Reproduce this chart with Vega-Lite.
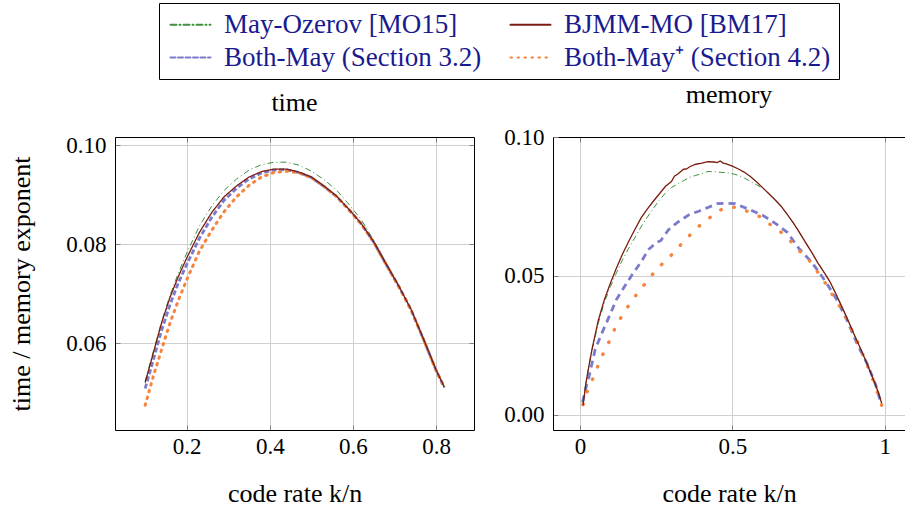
{
  "$schema": "https://vega.github.io/schema/vega-lite/v6.json",
  "padding": {"left": 8, "top": 2, "right": 0, "bottom": 0},
  "background": "white",
  "config": {
    "font": "Liberation Serif",
    "view": {"stroke": null},
    "style": {
      "guide-label": {"font": "Liberation Serif"},
      "guide-title": {"font": "Liberation Serif"},
      "group-title": {"font": "Liberation Serif"}
    },
    "axis": {
      "labelFont": "Liberation Serif", "labelFontSize": 23, "labelColor": "black",
      "titleFont": "Liberation Serif", "titleFontSize": 26, "titleFontWeight": "normal", "titleColor": "black",
      "gridColor": "#cfcfcf", "gridWidth": 1, "domainColor": "black", "domainWidth": 1,
      "tickColor": "#808080", "tickSize": -5, "tickWidth": 1
    },
    "legend": {"labelFont": "Liberation Serif", "labelFontSize": 27, "labelColor": "#1a1a8f"},
    "title": {"font": "Liberation Serif", "fontSize": 26, "fontWeight": "normal", "offset": 18, "color": "black"},
    "concat": {"spacing": 28}
  },
  "datasets": {
    "time": [
      {"s": "Both-May (Section 3.2)", "x": 0.10, "y": 0.0508}, {"s": "Both-May (Section 3.2)", "x": 0.12, "y": 0.0567}, {"s": "Both-May (Section 3.2)", "x": 0.14, "y": 0.0627}, {"s": "Both-May (Section 3.2)", "x": 0.16, "y": 0.0678}, {"s": "Both-May (Section 3.2)", "x": 0.18, "y": 0.0722}, {"s": "Both-May (Section 3.2)", "x": 0.20, "y": 0.0759}, {"s": "Both-May (Section 3.2)", "x": 0.23, "y": 0.0811}, {"s": "Both-May (Section 3.2)", "x": 0.26, "y": 0.0854}, {"s": "Both-May (Section 3.2)", "x": 0.29, "y": 0.0889}, {"s": "Both-May (Section 3.2)", "x": 0.32, "y": 0.0913}, {"s": "Both-May (Section 3.2)", "x": 0.35, "y": 0.0932}, {"s": "Both-May (Section 3.2)", "x": 0.38, "y": 0.0944}, {"s": "Both-May (Section 3.2)", "x": 0.41, "y": 0.0950}, {"s": "Both-May (Section 3.2)", "x": 0.44, "y": 0.0951}, {"s": "Both-May (Section 3.2)", "x": 0.47, "y": 0.0945}, {"s": "Both-May (Section 3.2)", "x": 0.50, "y": 0.0935}, {"s": "Both-May (Section 3.2)", "x": 0.53, "y": 0.0917}, {"s": "Both-May (Section 3.2)", "x": 0.56, "y": 0.0897}, {"s": "Both-May (Section 3.2)", "x": 0.59, "y": 0.0870}, {"s": "Both-May (Section 3.2)", "x": 0.62, "y": 0.0841}, {"s": "Both-May (Section 3.2)", "x": 0.65, "y": 0.0804}, {"s": "Both-May (Section 3.2)", "x": 0.68, "y": 0.0759}, {"s": "Both-May (Section 3.2)", "x": 0.71, "y": 0.0715}, {"s": "Both-May (Section 3.2)", "x": 0.74, "y": 0.0667}, {"s": "Both-May (Section 3.2)", "x": 0.77, "y": 0.0607}, {"s": "Both-May (Section 3.2)", "x": 0.80, "y": 0.0545}, {"s": "Both-May (Section 3.2)", "x": 0.82, "y": 0.0510},
      {"s": "Both-May⁺ (Section 4.2)", "x": 0.10, "y": 0.0474}, {"s": "Both-May⁺ (Section 4.2)", "x": 0.12, "y": 0.0534}, {"s": "Both-May⁺ (Section 4.2)", "x": 0.14, "y": 0.0588}, {"s": "Both-May⁺ (Section 4.2)", "x": 0.16, "y": 0.0641}, {"s": "Both-May⁺ (Section 4.2)", "x": 0.18, "y": 0.0687}, {"s": "Both-May⁺ (Section 4.2)", "x": 0.20, "y": 0.0728}, {"s": "Both-May⁺ (Section 4.2)", "x": 0.23, "y": 0.0785}, {"s": "Both-May⁺ (Section 4.2)", "x": 0.26, "y": 0.0828}, {"s": "Both-May⁺ (Section 4.2)", "x": 0.29, "y": 0.0866}, {"s": "Both-May⁺ (Section 4.2)", "x": 0.32, "y": 0.0896}, {"s": "Both-May⁺ (Section 4.2)", "x": 0.35, "y": 0.0919}, {"s": "Both-May⁺ (Section 4.2)", "x": 0.38, "y": 0.0936}, {"s": "Both-May⁺ (Section 4.2)", "x": 0.41, "y": 0.0945}, {"s": "Both-May⁺ (Section 4.2)", "x": 0.44, "y": 0.0948}, {"s": "Both-May⁺ (Section 4.2)", "x": 0.47, "y": 0.0944}, {"s": "Both-May⁺ (Section 4.2)", "x": 0.50, "y": 0.0935}, {"s": "Both-May⁺ (Section 4.2)", "x": 0.53, "y": 0.0917}, {"s": "Both-May⁺ (Section 4.2)", "x": 0.56, "y": 0.0897}, {"s": "Both-May⁺ (Section 4.2)", "x": 0.59, "y": 0.0870}, {"s": "Both-May⁺ (Section 4.2)", "x": 0.62, "y": 0.0841}, {"s": "Both-May⁺ (Section 4.2)", "x": 0.65, "y": 0.0804}, {"s": "Both-May⁺ (Section 4.2)", "x": 0.68, "y": 0.0759}, {"s": "Both-May⁺ (Section 4.2)", "x": 0.71, "y": 0.0715}, {"s": "Both-May⁺ (Section 4.2)", "x": 0.74, "y": 0.0667}, {"s": "Both-May⁺ (Section 4.2)", "x": 0.77, "y": 0.0607}, {"s": "Both-May⁺ (Section 4.2)", "x": 0.80, "y": 0.0545}, {"s": "Both-May⁺ (Section 4.2)", "x": 0.82, "y": 0.0510},
      {"s": "May-Ozerov [MO15]", "x": 0.10, "y": 0.0523}, {"s": "May-Ozerov [MO15]", "x": 0.12, "y": 0.0584}, {"s": "May-Ozerov [MO15]", "x": 0.14, "y": 0.0645}, {"s": "May-Ozerov [MO15]", "x": 0.16, "y": 0.0697}, {"s": "May-Ozerov [MO15]", "x": 0.18, "y": 0.0742}, {"s": "May-Ozerov [MO15]", "x": 0.20, "y": 0.0782}, {"s": "May-Ozerov [MO15]", "x": 0.23, "y": 0.0836}, {"s": "May-Ozerov [MO15]", "x": 0.26, "y": 0.0877}, {"s": "May-Ozerov [MO15]", "x": 0.29, "y": 0.0909}, {"s": "May-Ozerov [MO15]", "x": 0.32, "y": 0.0932}, {"s": "May-Ozerov [MO15]", "x": 0.35, "y": 0.0950}, {"s": "May-Ozerov [MO15]", "x": 0.38, "y": 0.0961}, {"s": "May-Ozerov [MO15]", "x": 0.41, "y": 0.0966}, {"s": "May-Ozerov [MO15]", "x": 0.44, "y": 0.0966}, {"s": "May-Ozerov [MO15]", "x": 0.47, "y": 0.0960}, {"s": "May-Ozerov [MO15]", "x": 0.50, "y": 0.0948}, {"s": "May-Ozerov [MO15]", "x": 0.53, "y": 0.0931}, {"s": "May-Ozerov [MO15]", "x": 0.56, "y": 0.0910}, {"s": "May-Ozerov [MO15]", "x": 0.59, "y": 0.0881}, {"s": "May-Ozerov [MO15]", "x": 0.62, "y": 0.0850}, {"s": "May-Ozerov [MO15]", "x": 0.65, "y": 0.0808}, {"s": "May-Ozerov [MO15]", "x": 0.68, "y": 0.0761}, {"s": "May-Ozerov [MO15]", "x": 0.71, "y": 0.0716}, {"s": "May-Ozerov [MO15]", "x": 0.74, "y": 0.0668}, {"s": "May-Ozerov [MO15]", "x": 0.77, "y": 0.0608}, {"s": "May-Ozerov [MO15]", "x": 0.80, "y": 0.0546}, {"s": "May-Ozerov [MO15]", "x": 0.82, "y": 0.0511},
      {"s": "BJMM-MO [BM17]", "x": 0.10, "y": 0.0520}, {"s": "BJMM-MO [BM17]", "x": 0.12, "y": 0.0581}, {"s": "BJMM-MO [BM17]", "x": 0.14, "y": 0.0642}, {"s": "BJMM-MO [BM17]", "x": 0.16, "y": 0.0693}, {"s": "BJMM-MO [BM17]", "x": 0.18, "y": 0.0735}, {"s": "BJMM-MO [BM17]", "x": 0.20, "y": 0.0772}, {"s": "BJMM-MO [BM17]", "x": 0.23, "y": 0.0823}, {"s": "BJMM-MO [BM17]", "x": 0.26, "y": 0.0864}, {"s": "BJMM-MO [BM17]", "x": 0.29, "y": 0.0896}, {"s": "BJMM-MO [BM17]", "x": 0.32, "y": 0.0918}, {"s": "BJMM-MO [BM17]", "x": 0.35, "y": 0.0936}, {"s": "BJMM-MO [BM17]", "x": 0.38, "y": 0.0947}, {"s": "BJMM-MO [BM17]", "x": 0.41, "y": 0.0952}, {"s": "BJMM-MO [BM17]", "x": 0.44, "y": 0.0952}, {"s": "BJMM-MO [BM17]", "x": 0.47, "y": 0.0946}, {"s": "BJMM-MO [BM17]", "x": 0.50, "y": 0.0936}, {"s": "BJMM-MO [BM17]", "x": 0.53, "y": 0.0918}, {"s": "BJMM-MO [BM17]", "x": 0.56, "y": 0.0898}, {"s": "BJMM-MO [BM17]", "x": 0.59, "y": 0.0871}, {"s": "BJMM-MO [BM17]", "x": 0.62, "y": 0.0842}, {"s": "BJMM-MO [BM17]", "x": 0.65, "y": 0.0805}, {"s": "BJMM-MO [BM17]", "x": 0.68, "y": 0.0760}, {"s": "BJMM-MO [BM17]", "x": 0.71, "y": 0.0716}, {"s": "BJMM-MO [BM17]", "x": 0.74, "y": 0.0668}, {"s": "BJMM-MO [BM17]", "x": 0.77, "y": 0.0608}, {"s": "BJMM-MO [BM17]", "x": 0.80, "y": 0.0546}, {"s": "BJMM-MO [BM17]", "x": 0.82, "y": 0.0511}
    ],
    "memory": [
      {"s": "May-Ozerov [MO15]", "x": 0.01, "y": 0.0050}, {"s": "May-Ozerov [MO15]", "x": 0.02, "y": 0.0120}, {"s": "May-Ozerov [MO15]", "x": 0.03, "y": 0.0180}, {"s": "May-Ozerov [MO15]", "x": 0.04, "y": 0.0237}, {"s": "May-Ozerov [MO15]", "x": 0.06, "y": 0.0330}, {"s": "May-Ozerov [MO15]", "x": 0.08, "y": 0.0405}, {"s": "May-Ozerov [MO15]", "x": 0.10, "y": 0.0462}, {"s": "May-Ozerov [MO15]", "x": 0.12, "y": 0.0512}, {"s": "May-Ozerov [MO15]", "x": 0.14, "y": 0.0560}, {"s": "May-Ozerov [MO15]", "x": 0.16, "y": 0.0600}, {"s": "May-Ozerov [MO15]", "x": 0.18, "y": 0.0638}, {"s": "May-Ozerov [MO15]", "x": 0.20, "y": 0.0676}, {"s": "May-Ozerov [MO15]", "x": 0.22, "y": 0.0710}, {"s": "May-Ozerov [MO15]", "x": 0.24, "y": 0.0742}, {"s": "May-Ozerov [MO15]", "x": 0.26, "y": 0.0772}, {"s": "May-Ozerov [MO15]", "x": 0.28, "y": 0.0798}, {"s": "May-Ozerov [MO15]", "x": 0.30, "y": 0.0818}, {"s": "May-Ozerov [MO15]", "x": 0.32, "y": 0.0831}, {"s": "May-Ozerov [MO15]", "x": 0.34, "y": 0.0843}, {"s": "May-Ozerov [MO15]", "x": 0.36, "y": 0.0855}, {"s": "May-Ozerov [MO15]", "x": 0.38, "y": 0.0862}, {"s": "May-Ozerov [MO15]", "x": 0.40, "y": 0.0868}, {"s": "May-Ozerov [MO15]", "x": 0.42, "y": 0.0876}, {"s": "May-Ozerov [MO15]", "x": 0.44, "y": 0.0875}, {"s": "May-Ozerov [MO15]", "x": 0.46, "y": 0.0873}, {"s": "May-Ozerov [MO15]", "x": 0.48, "y": 0.0872}, {"s": "May-Ozerov [MO15]", "x": 0.50, "y": 0.0868}, {"s": "May-Ozerov [MO15]", "x": 0.52, "y": 0.0862}, {"s": "May-Ozerov [MO15]", "x": 0.54, "y": 0.0852}, {"s": "May-Ozerov [MO15]", "x": 0.56, "y": 0.0840}, {"s": "May-Ozerov [MO15]", "x": 0.58, "y": 0.0828}, {"s": "May-Ozerov [MO15]", "x": 0.60, "y": 0.0815}, {"s": "May-Ozerov [MO15]", "x": 0.62, "y": 0.0796}, {"s": "May-Ozerov [MO15]", "x": 0.64, "y": 0.0774}, {"s": "May-Ozerov [MO15]", "x": 0.66, "y": 0.0751}, {"s": "May-Ozerov [MO15]", "x": 0.68, "y": 0.0722}, {"s": "May-Ozerov [MO15]", "x": 0.70, "y": 0.0691}, {"s": "May-Ozerov [MO15]", "x": 0.72, "y": 0.0657}, {"s": "May-Ozerov [MO15]", "x": 0.74, "y": 0.0621}, {"s": "May-Ozerov [MO15]", "x": 0.76, "y": 0.0586}, {"s": "May-Ozerov [MO15]", "x": 0.78, "y": 0.0548}, {"s": "May-Ozerov [MO15]", "x": 0.80, "y": 0.0515}, {"s": "May-Ozerov [MO15]", "x": 0.82, "y": 0.0480}, {"s": "May-Ozerov [MO15]", "x": 0.84, "y": 0.0435}, {"s": "May-Ozerov [MO15]", "x": 0.86, "y": 0.0388}, {"s": "May-Ozerov [MO15]", "x": 0.88, "y": 0.0340}, {"s": "May-Ozerov [MO15]", "x": 0.90, "y": 0.0289}, {"s": "May-Ozerov [MO15]", "x": 0.92, "y": 0.0240}, {"s": "May-Ozerov [MO15]", "x": 0.94, "y": 0.0190}, {"s": "May-Ozerov [MO15]", "x": 0.96, "y": 0.0136}, {"s": "May-Ozerov [MO15]", "x": 0.98, "y": 0.0078}, {"s": "May-Ozerov [MO15]", "x": 0.99, "y": 0.0042},
      {"s": "BJMM-MO [BM17]", "x": 0.01, "y": 0.0035}, {"s": "BJMM-MO [BM17]", "x": 0.02, "y": 0.0118}, {"s": "BJMM-MO [BM17]", "x": 0.03, "y": 0.0180}, {"s": "BJMM-MO [BM17]", "x": 0.04, "y": 0.0240}, {"s": "BJMM-MO [BM17]", "x": 0.06, "y": 0.0340}, {"s": "BJMM-MO [BM17]", "x": 0.08, "y": 0.0415}, {"s": "BJMM-MO [BM17]", "x": 0.10, "y": 0.0475}, {"s": "BJMM-MO [BM17]", "x": 0.12, "y": 0.0530}, {"s": "BJMM-MO [BM17]", "x": 0.14, "y": 0.0580}, {"s": "BJMM-MO [BM17]", "x": 0.16, "y": 0.0625}, {"s": "BJMM-MO [BM17]", "x": 0.18, "y": 0.0667}, {"s": "BJMM-MO [BM17]", "x": 0.20, "y": 0.0708}, {"s": "BJMM-MO [BM17]", "x": 0.22, "y": 0.0740}, {"s": "BJMM-MO [BM17]", "x": 0.24, "y": 0.0768}, {"s": "BJMM-MO [BM17]", "x": 0.26, "y": 0.0795}, {"s": "BJMM-MO [BM17]", "x": 0.28, "y": 0.0822}, {"s": "BJMM-MO [BM17]", "x": 0.30, "y": 0.0840}, {"s": "BJMM-MO [BM17]", "x": 0.31, "y": 0.0859}, {"s": "BJMM-MO [BM17]", "x": 0.32, "y": 0.0866}, {"s": "BJMM-MO [BM17]", "x": 0.34, "y": 0.0884}, {"s": "BJMM-MO [BM17]", "x": 0.35, "y": 0.0885}, {"s": "BJMM-MO [BM17]", "x": 0.36, "y": 0.0893}, {"s": "BJMM-MO [BM17]", "x": 0.38, "y": 0.0902}, {"s": "BJMM-MO [BM17]", "x": 0.40, "y": 0.0906}, {"s": "BJMM-MO [BM17]", "x": 0.42, "y": 0.0911}, {"s": "BJMM-MO [BM17]", "x": 0.44, "y": 0.0910}, {"s": "BJMM-MO [BM17]", "x": 0.45, "y": 0.0908}, {"s": "BJMM-MO [BM17]", "x": 0.46, "y": 0.0914}, {"s": "BJMM-MO [BM17]", "x": 0.47, "y": 0.0906}, {"s": "BJMM-MO [BM17]", "x": 0.48, "y": 0.0903}, {"s": "BJMM-MO [BM17]", "x": 0.50, "y": 0.0895}, {"s": "BJMM-MO [BM17]", "x": 0.52, "y": 0.0885}, {"s": "BJMM-MO [BM17]", "x": 0.54, "y": 0.0873}, {"s": "BJMM-MO [BM17]", "x": 0.56, "y": 0.0857}, {"s": "BJMM-MO [BM17]", "x": 0.58, "y": 0.0838}, {"s": "BJMM-MO [BM17]", "x": 0.60, "y": 0.0817}, {"s": "BJMM-MO [BM17]", "x": 0.62, "y": 0.0796}, {"s": "BJMM-MO [BM17]", "x": 0.64, "y": 0.0774}, {"s": "BJMM-MO [BM17]", "x": 0.66, "y": 0.0751}, {"s": "BJMM-MO [BM17]", "x": 0.68, "y": 0.0722}, {"s": "BJMM-MO [BM17]", "x": 0.70, "y": 0.0691}, {"s": "BJMM-MO [BM17]", "x": 0.72, "y": 0.0657}, {"s": "BJMM-MO [BM17]", "x": 0.74, "y": 0.0621}, {"s": "BJMM-MO [BM17]", "x": 0.76, "y": 0.0586}, {"s": "BJMM-MO [BM17]", "x": 0.78, "y": 0.0548}, {"s": "BJMM-MO [BM17]", "x": 0.80, "y": 0.0515}, {"s": "BJMM-MO [BM17]", "x": 0.82, "y": 0.0480}, {"s": "BJMM-MO [BM17]", "x": 0.84, "y": 0.0435}, {"s": "BJMM-MO [BM17]", "x": 0.86, "y": 0.0388}, {"s": "BJMM-MO [BM17]", "x": 0.88, "y": 0.0340}, {"s": "BJMM-MO [BM17]", "x": 0.90, "y": 0.0289}, {"s": "BJMM-MO [BM17]", "x": 0.92, "y": 0.0240}, {"s": "BJMM-MO [BM17]", "x": 0.94, "y": 0.0190}, {"s": "BJMM-MO [BM17]", "x": 0.96, "y": 0.0136}, {"s": "BJMM-MO [BM17]", "x": 0.98, "y": 0.0078}, {"s": "BJMM-MO [BM17]", "x": 0.99, "y": 0.0042},
      {"s": "Both-May (Section 3.2)", "x": 0.008, "y": 0.0045}, {"s": "Both-May (Section 3.2)", "x": 0.02, "y": 0.0100}, {"s": "Both-May (Section 3.2)", "x": 0.03, "y": 0.0140}, {"s": "Both-May (Section 3.2)", "x": 0.05, "y": 0.0237}, {"s": "Both-May (Section 3.2)", "x": 0.07, "y": 0.0290}, {"s": "Both-May (Section 3.2)", "x": 0.085, "y": 0.0327}, {"s": "Both-May (Section 3.2)", "x": 0.10, "y": 0.0365}, {"s": "Both-May (Section 3.2)", "x": 0.12, "y": 0.0416}, {"s": "Both-May (Section 3.2)", "x": 0.145, "y": 0.0460}, {"s": "Both-May (Section 3.2)", "x": 0.17, "y": 0.0503}, {"s": "Both-May (Section 3.2)", "x": 0.20, "y": 0.0550}, {"s": "Both-May (Section 3.2)", "x": 0.225, "y": 0.0595}, {"s": "Both-May (Section 3.2)", "x": 0.25, "y": 0.0620}, {"s": "Both-May (Section 3.2)", "x": 0.265, "y": 0.0627}, {"s": "Both-May (Section 3.2)", "x": 0.29, "y": 0.0666}, {"s": "Both-May (Section 3.2)", "x": 0.32, "y": 0.0693}, {"s": "Both-May (Section 3.2)", "x": 0.36, "y": 0.0722}, {"s": "Both-May (Section 3.2)", "x": 0.39, "y": 0.0733}, {"s": "Both-May (Section 3.2)", "x": 0.41, "y": 0.0742}, {"s": "Both-May (Section 3.2)", "x": 0.45, "y": 0.0760}, {"s": "Both-May (Section 3.2)", "x": 0.48, "y": 0.0762}, {"s": "Both-May (Section 3.2)", "x": 0.51, "y": 0.0760}, {"s": "Both-May (Section 3.2)", "x": 0.56, "y": 0.0737}, {"s": "Both-May (Section 3.2)", "x": 0.60, "y": 0.0718}, {"s": "Both-May (Section 3.2)", "x": 0.64, "y": 0.0690}, {"s": "Both-May (Section 3.2)", "x": 0.68, "y": 0.0657}, {"s": "Both-May (Section 3.2)", "x": 0.72, "y": 0.0597}, {"s": "Both-May (Section 3.2)", "x": 0.76, "y": 0.0550}, {"s": "Both-May (Section 3.2)", "x": 0.785, "y": 0.0513}, {"s": "Both-May (Section 3.2)", "x": 0.81, "y": 0.0473}, {"s": "Both-May (Section 3.2)", "x": 0.845, "y": 0.0411}, {"s": "Both-May (Section 3.2)", "x": 0.877, "y": 0.0339}, {"s": "Both-May (Section 3.2)", "x": 0.91, "y": 0.0255}, {"s": "Both-May (Section 3.2)", "x": 0.943, "y": 0.0183}, {"s": "Both-May (Section 3.2)", "x": 0.97, "y": 0.0110}, {"s": "Both-May (Section 3.2)", "x": 0.987, "y": 0.0045},
      {"s": "Both-May⁺ (Section 4.2)", "x": 0.010, "y": 0.0037}, {"s": "Both-May⁺ (Section 4.2)", "x": 0.024, "y": 0.0085}, {"s": "Both-May⁺ (Section 4.2)", "x": 0.042, "y": 0.0131}, {"s": "Both-May⁺ (Section 4.2)", "x": 0.059, "y": 0.0177}, {"s": "Both-May⁺ (Section 4.2)", "x": 0.077, "y": 0.0223}, {"s": "Both-May⁺ (Section 4.2)", "x": 0.097, "y": 0.0267}, {"s": "Both-May⁺ (Section 4.2)", "x": 0.115, "y": 0.0312}, {"s": "Both-May⁺ (Section 4.2)", "x": 0.137, "y": 0.0356}, {"s": "Both-May⁺ (Section 4.2)", "x": 0.162, "y": 0.0398}, {"s": "Both-May⁺ (Section 4.2)", "x": 0.188, "y": 0.0437}, {"s": "Both-May⁺ (Section 4.2)", "x": 0.216, "y": 0.0476}, {"s": "Both-May⁺ (Section 4.2)", "x": 0.244, "y": 0.0514}, {"s": "Both-May⁺ (Section 4.2)", "x": 0.275, "y": 0.0549}, {"s": "Both-May⁺ (Section 4.2)", "x": 0.307, "y": 0.0583}, {"s": "Both-May⁺ (Section 4.2)", "x": 0.336, "y": 0.0619}, {"s": "Both-May⁺ (Section 4.2)", "x": 0.366, "y": 0.0653}, {"s": "Both-May⁺ (Section 4.2)", "x": 0.398, "y": 0.0687}, {"s": "Both-May⁺ (Section 4.2)", "x": 0.433, "y": 0.0716}, {"s": "Both-May⁺ (Section 4.2)", "x": 0.469, "y": 0.0743}, {"s": "Both-May⁺ (Section 4.2)", "x": 0.513, "y": 0.0748}, {"s": "Both-May⁺ (Section 4.2)", "x": 0.553, "y": 0.0731}, {"s": "Both-May⁺ (Section 4.2)", "x": 0.591, "y": 0.0713}, {"s": "Both-May⁺ (Section 4.2)", "x": 0.627, "y": 0.0683}, {"s": "Both-May⁺ (Section 4.2)", "x": 0.663, "y": 0.0655}, {"s": "Both-May⁺ (Section 4.2)", "x": 0.695, "y": 0.0621}, {"s": "Both-May⁺ (Section 4.2)", "x": 0.723, "y": 0.0587}, {"s": "Both-May⁺ (Section 4.2)", "x": 0.755, "y": 0.0553}, {"s": "Both-May⁺ (Section 4.2)", "x": 0.782, "y": 0.0511}, {"s": "Both-May⁺ (Section 4.2)", "x": 0.806, "y": 0.0473}, {"s": "Both-May⁺ (Section 4.2)", "x": 0.828, "y": 0.0433}, {"s": "Both-May⁺ (Section 4.2)", "x": 0.853, "y": 0.0390}, {"s": "Both-May⁺ (Section 4.2)", "x": 0.876, "y": 0.0344}, {"s": "Both-May⁺ (Section 4.2)", "x": 0.895, "y": 0.0299}, {"s": "Both-May⁺ (Section 4.2)", "x": 0.915, "y": 0.0253}, {"s": "Both-May⁺ (Section 4.2)", "x": 0.932, "y": 0.0207}, {"s": "Both-May⁺ (Section 4.2)", "x": 0.949, "y": 0.0162}, {"s": "Both-May⁺ (Section 4.2)", "x": 0.965, "y": 0.0117}, {"s": "Both-May⁺ (Section 4.2)", "x": 0.979, "y": 0.0072}, {"s": "Both-May⁺ (Section 4.2)", "x": 0.990, "y": 0.0035}
    ]
  },
  "hconcat": [
    {
      "width": 359, "height": 293,
      "title": "time",
      "data": {"name": "time"},
      "layer": [
        {
          "encoding": {
            "x": {"field": "x", "type": "quantitative", "scale": {"domain": [0.0274, 0.8914], "nice": false, "zero": false},
                  "axis": {"orient": "bottom", "values": [0.2, 0.4, 0.6, 0.8], "format": ".1f", "title": "code rate k/n", "grid": true, "labelPadding": 10, "titlePadding": 22}},
            "y": {"field": "y", "type": "quantitative", "scale": {"domain": [0.0424, 0.1017], "nice": false, "zero": false},
                  "axis": {"orient": "left", "values": [0.06, 0.08, 0.1], "format": ".2f", "title": "time / memory exponent", "grid": true, "labelPadding": 14, "titlePadding": 31}},
            "color": {"field": "s", "type": "nominal",
                      "scale": {"domain": ["May-Ozerov [MO15]", "BJMM-MO [BM17]", "Both-May (Section 3.2)", "Both-May⁺ (Section 4.2)"], "range": ["#3f8f3f", "#7a1c10", "#7b7bcc", "#f5843f"]},
                      "legend": {"title": null, "orient": "none", "legendX": 44, "legendY": -134, "direction": "horizontal", "columns": 2, "symbolType": "M-1,0H3", "symbolSize": 400, "symbolStrokeWidth": 2, "labelFont": "Liberation Serif", "labelFontSize": 27, "labelColor": "#1a1a8f", "labelOffset": 30, "labelLimit": 500, "strokeColor": "black", "fillColor": "white", "padding": 8, "rowPadding": 5, "columnPadding": 24, "cornerRadius": 0,
                                 "encode": {"symbols": {"update": {"strokeCap": {"value": "round"}, "fill": {"value": "transparent"}}}}}},
            "strokeDash": {"field": "s", "type": "nominal",
                      "scale": {"domain": ["May-Ozerov [MO15]", "BJMM-MO [BM17]", "Both-May (Section 3.2)", "Both-May⁺ (Section 4.2)"], "range": [[6, 3, 1, 3], [1, 0], [5, 2.5], [1.5, 5.5]]}}
          },
          "layer": [
            {"transform": [{"filter": {"field": "s", "equal": "Both-May (Section 3.2)"}}], "mark": {"type": "line", "strokeWidth": 2.8, "clip": true}},
            {"transform": [{"filter": {"field": "s", "equal": "Both-May⁺ (Section 4.2)"}}], "mark": {"type": "line", "strokeWidth": 3, "strokeCap": "round", "clip": true}},
            {"transform": [{"filter": {"field": "s", "equal": "May-Ozerov [MO15]"}}], "mark": {"type": "line", "strokeWidth": 1, "clip": true}},
            {"transform": [{"filter": {"field": "s", "equal": "BJMM-MO [BM17]"}}], "mark": {"type": "line", "strokeWidth": 1.3, "clip": true}}
          ]
        },
        {
          "mark": {"type": "point", "opacity": 0},
          "encoding": {
            "x": {"field": "x", "type": "quantitative", "axis": {"orient": "top", "values": [0.2, 0.4, 0.6, 0.8], "labels": false, "title": null, "grid": false}},
            "y": {"field": "y", "type": "quantitative", "axis": {"orient": "right", "values": [0.06, 0.08, 0.1], "labels": false, "title": null, "grid": false}}
          }
        }
      ],
      "resolve": {"axis": {"x": "independent", "y": "independent"}}
    },
    {
      "width": 352, "height": 293,
      "title": "memory",
      "data": {"name": "memory"},
      "layer": [
        {
          "encoding": {
            "x": {"field": "x", "type": "quantitative", "scale": {"domain": [-0.0886, 1.0666], "nice": false, "zero": false},
                  "axis": {"orient": "bottom", "values": [0, 0.5, 1], "format": "~g", "title": "code rate k/n", "grid": true, "labelPadding": 10, "titlePadding": 22}},
            "y": {"field": "y", "type": "quantitative", "scale": {"domain": [-0.0054, 0.1], "nice": false, "zero": false},
                  "axis": {"orient": "left", "values": [0, 0.05, 0.1], "format": ".2f", "title": null, "grid": true, "labelPadding": 14}},
            "color": {"field": "s", "type": "nominal",
                      "scale": {"domain": ["May-Ozerov [MO15]", "BJMM-MO [BM17]", "Both-May (Section 3.2)", "Both-May⁺ (Section 4.2)"], "range": ["#3f8f3f", "#7a1c10", "#7b7bcc", "#f5843f"]},
                      "legend": {"title": null, "orient": "none", "legendX": 44, "legendY": -134, "direction": "horizontal", "columns": 2, "symbolType": "M-1,0H3", "symbolSize": 400, "symbolStrokeWidth": 2, "labelFont": "Liberation Serif", "labelFontSize": 27, "labelColor": "#1a1a8f", "labelOffset": 30, "labelLimit": 500, "strokeColor": "black", "fillColor": "white", "padding": 8, "rowPadding": 5, "columnPadding": 24, "cornerRadius": 0,
                                 "encode": {"symbols": {"update": {"strokeCap": {"value": "round"}, "fill": {"value": "transparent"}}}}}}
          },
          "layer": [
            {"transform": [{"filter": {"field": "s", "equal": "Both-May (Section 3.2)"}}], "mark": {"type": "line", "strokeDash": [7, 5], "strokeWidth": 2.8, "clip": true}},
            {"transform": [{"filter": {"field": "s", "equal": "Both-May⁺ (Section 4.2)"}}], "mark": {"type": "line", "strokeDash": [0.5, 13], "strokeWidth": 3.4, "strokeCap": "round", "clip": true}},
            {"transform": [{"filter": {"field": "s", "equal": "May-Ozerov [MO15]"}}], "mark": {"type": "line", "strokeDash": [6, 3, 1, 3], "strokeWidth": 1, "clip": true}},
            {"transform": [{"filter": {"field": "s", "equal": "BJMM-MO [BM17]"}}], "mark": {"type": "line", "strokeWidth": 1.3, "clip": true}}
          ]
        },
        {
          "mark": {"type": "point", "opacity": 0},
          "encoding": {
            "x": {"field": "x", "type": "quantitative", "axis": {"orient": "top", "values": [0, 0.5, 1], "labels": false, "title": null, "grid": false}}
          }
        }
      ],
      "resolve": {"axis": {"x": "independent"}}
    }
  ]
}
